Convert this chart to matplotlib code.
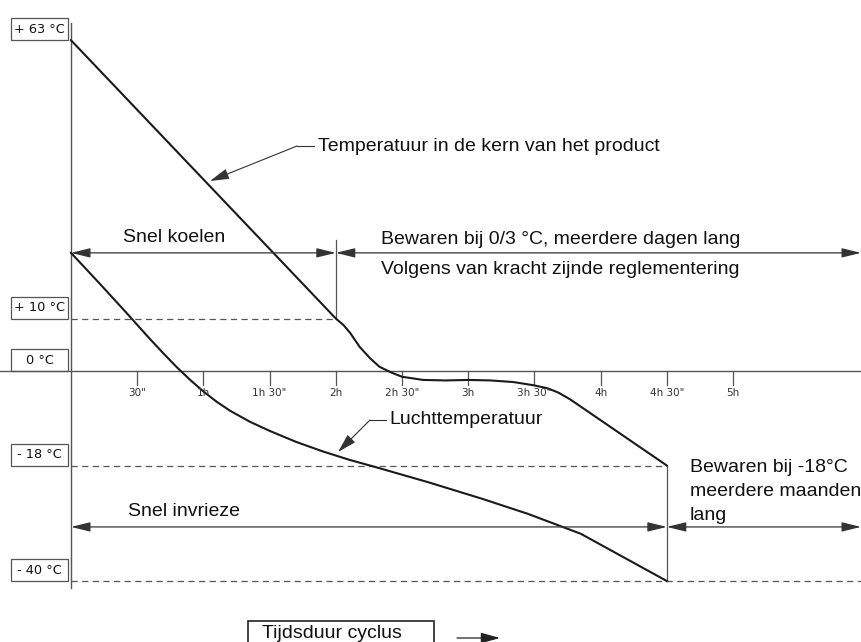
"""
Koel- en invriescyclus: kerntemperatuur van het product en luchttemperatuur
tegen de tijdsduur van de cyclus (schematisch).
"""

import matplotlib
matplotlib.use("Agg")
import matplotlib.pyplot as plt
from matplotlib.patches import Rectangle

# ── Data ───────────────────────────────────────────────────────────────────
core_hours = [0.0, 2.0, 2.06, 2.11, 2.18, 2.26, 2.33, 2.42, 2.5, 2.66, 2.83,
              3.0, 3.17, 3.34, 3.49, 3.6, 3.68, 3.77, 4.5]
core_temp = [63.0, 10.0, 8.7, 7.2, 4.6, 2.4, 0.8, -0.3, -1.1, -1.7, -1.8,
             -1.7, -1.8, -2.1, -2.7, -3.3, -4.1, -5.4, -18.0]

air_hours = [0.0, 0.2, 0.4, 0.6, 0.7, 0.8, 0.9, 1.0, 1.1, 1.2, 1.35, 1.5,
             1.7, 1.9, 2.1, 2.3, 2.7, 3.1, 3.45, 3.85, 4.5]
air_temp = [22.5, 17.1, 11.6, 6.0, 3.3, 0.7, -1.7, -3.9, -5.85, -7.55,
            -9.65, -11.4, -13.5, -15.3, -16.9, -18.3, -21.2, -24.3, -27.2,
            -31.0, -40.0]

tick_hours = [0.5, 1.0, 1.5, 2.0, 2.5, 3.0, 3.5, 4.0, 4.5, 5.0]
tick_labels = ['30"', "1h", '1h 30"', "2h", '2h 30"', "3h", '3h 30"', "4h",
               '4h 30"', "5h"]

level_temps = [63, 10, 0, -18, -40]
level_labels = ["+ 63 °C", "+ 10 °C", "0 °C", "- 18 °C", "- 40 °C"]

cool_end_h = 2.0      # einde snel koelen
freeze_end_h = 4.5    # einde snel invriezen
cool_arrow_t = 22.5
freeze_arrow_t = -29.7

# ── Layout: pixel <-> data helpers ─────────────────────────────────────────
W, H = 862, 642
PX_X0, PX_PER_H = 71, 132.4
PX_Y0, PX_PER_C = 371, 5.25


def hx(px):
    return (px - PX_X0) / PX_PER_H


def ty(py):
    return (PX_Y0 - py) / PX_PER_C


LINE = "#1a1a1a"
GREY = "#555555"
TXT = "#111111"
FONT = "Liberation Sans"
SMALL = "DejaVu Sans"

fig = plt.figure(figsize=(W / 100, H / 100), dpi=100)
ax = fig.add_axes([0, 0, 1, 1])
ax.set_xlim(hx(0), hx(W))
ax.set_ylim(ty(H), ty(0))
ax.axis("off")

# axes
ax.plot([0, 0], [ty(23), ty(588)], color=GREY, lw=1.0)
ax.plot([hx(0), hx(W)], [0, 0], color=GREY, lw=1.0)
for h, lab in zip(tick_hours, tick_labels):
    ax.plot([h, h], [0, ty(385)], color=GREY, lw=0.9)
    ax.text(h, ty(393), lab, ha="center", va="center", fontsize=7.5,
            family=SMALL, color="#333333")

# level boxes + dashed guides
box_l, box_r, box_h = hx(11), hx(68), 22 / PX_PER_C
for t, lab in zip(level_temps, level_labels):
    ax.add_patch(Rectangle((box_l, t), box_r - box_l, box_h, fill=False,
                           ec=GREY, lw=0.9))
    ax.text((box_l + box_r) / 2, t + box_h / 2, lab, ha="center",
            va="center", fontsize=9.3, family=SMALL, color=TXT)

dash = dict(color=GREY, lw=0.9, linestyle=(0, (5, 3.5)))
ax.plot([0, cool_end_h], [10, 10], **dash)
ax.plot([0, freeze_end_h], [-18, -18], **dash)
ax.plot([0, hx(W)], [-40, -40], **dash)

# vertical markers
ax.plot([cool_end_h, cool_end_h], [10, ty(240)], color=GREY, lw=0.9)
ax.plot([freeze_end_h, freeze_end_h], [-18, -40], color=GREY, lw=0.9)

# curves
ax.plot(core_hours, core_temp, color=LINE, lw=1.5, solid_joinstyle="round")
ax.plot(air_hours, air_temp, color=LINE, lw=1.5, solid_joinstyle="round")

# dimension arrows
arr = dict(arrowstyle="<|-|>,head_length=0.9,head_width=0.22", color="#333333",
           lw=0.9, shrinkA=0, shrinkB=0, mutation_scale=13)
ax.annotate("", xy=(cool_end_h, cool_arrow_t), xytext=(0, cool_arrow_t),
            arrowprops=arr)
ax.annotate("", xy=(hx(861), cool_arrow_t), xytext=(cool_end_h, cool_arrow_t),
            arrowprops=arr)
ax.annotate("", xy=(freeze_end_h, freeze_arrow_t), xytext=(0, freeze_arrow_t),
            arrowprops=arr)
ax.annotate("", xy=(hx(861), freeze_arrow_t),
            xytext=(freeze_end_h, freeze_arrow_t), arrowprops=arr)

fs = 14
ax.text(hx(123), ty(237), "Snel koelen", fontsize=fs, family=FONT,
        color=TXT, va="center")
ax.text(hx(381), ty(239), "Bewaren bij 0/3 °C, meerdere dagen lang",
        fontsize=fs, family=FONT, color=TXT, va="center")
ax.text(hx(381), ty(270), "Volgens van kracht zijnde reglementering",
        fontsize=fs, family=FONT, color=TXT, va="center")
ax.text(hx(128), ty(511), "Snel invrieze", fontsize=fs, family=FONT,
        color=TXT, va="center")
for i, line in enumerate(["Bewaren bij -18°C", "meerdere maanden", "lang"]):
    ax.text(hx(690), ty(467 + 24.5 * i), line, fontsize=fs, family=FONT,
            color=TXT, va="center")

# leaders
lead = dict(arrowstyle="-|>,head_length=0.9,head_width=0.25", color="#333333",
            lw=0.8, shrinkA=0, shrinkB=0, mutation_scale=13)
ax.plot([hx(297), hx(314)], [ty(146), ty(146)], color="#333333", lw=0.8)
ax.annotate("", xy=(hx(210), ty(181)), xytext=(hx(297), ty(146)),
            arrowprops=lead)
ax.text(hx(318), ty(146), "Temperatuur in de kern van het product",
        fontsize=fs, family=FONT, color=TXT, va="center")

ax.plot([hx(370), hx(386)], [ty(420), ty(420)], color="#333333", lw=0.8)
ax.annotate("", xy=(hx(338), ty(452)), xytext=(hx(370), ty(420)),
            arrowprops=lead)
ax.text(hx(389), ty(420), "Luchttemperatuur", fontsize=fs, family=FONT,
        color=TXT, va="center")

# time legend
ax.add_patch(Rectangle((hx(248), ty(650)), hx(434) - hx(248),
                       ty(621) - ty(650), fill=False, ec="#222222", lw=1.2))
ax.text(hx(262), ty(634), "Tijdsduur cyclus", fontsize=fs, family=FONT,
        color=TXT, va="center")
ax.annotate("", xy=(hx(500), ty(638)), xytext=(hx(457), ty(638)),
            arrowprops=dict(arrowstyle="-|>,head_length=0.9,head_width=0.25",
                            color="#222222", lw=0.9, shrinkA=0, shrinkB=0,
                            mutation_scale=13))

fig.savefig("out.png", dpi=100, facecolor="white")
